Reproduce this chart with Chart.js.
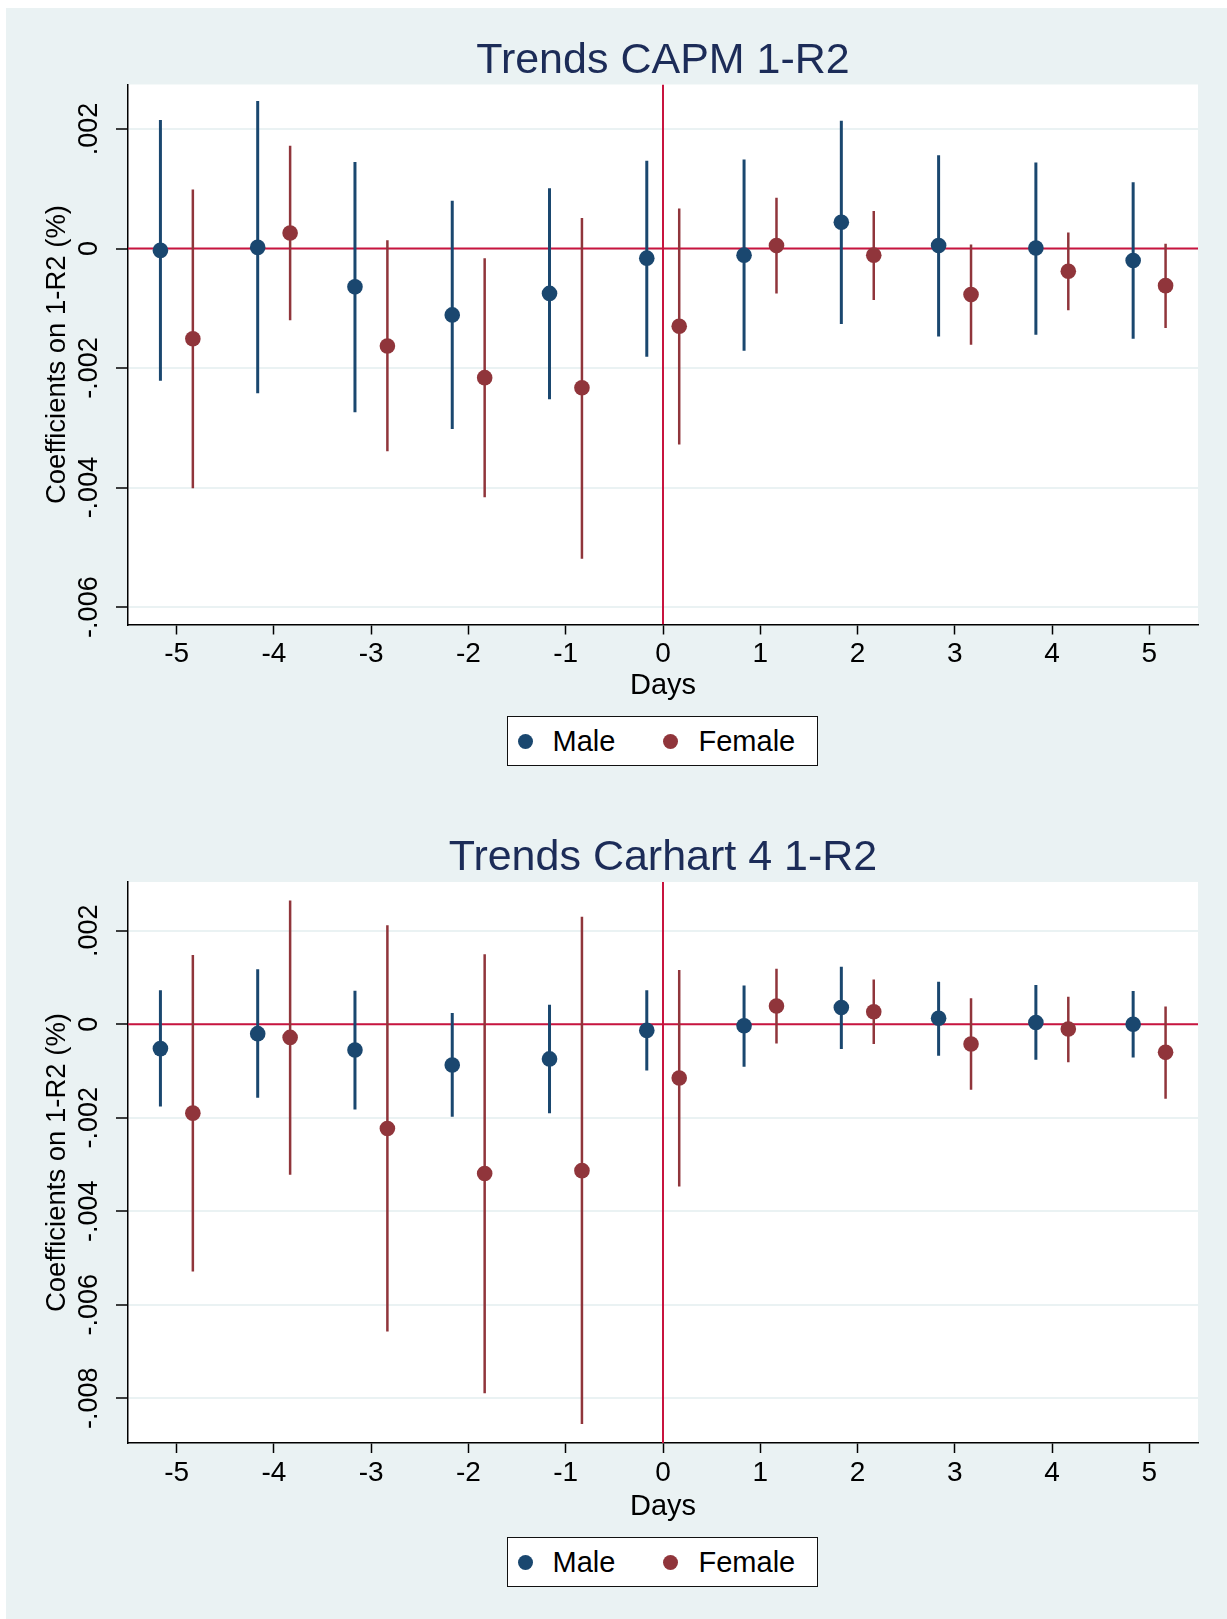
<!DOCTYPE html>
<html>
<head>
<meta charset="utf-8">
<script src="https://cdn.jsdelivr.net/npm/chart.js@4.4.0/dist/chart.umd.min.js"></script>
<style>
  html, body { margin: 0; padding: 0; background: #fff; }
  body { width: 1227px; height: 1619px; position: relative; overflow: hidden; font-family: "Liberation Sans", Arial, sans-serif; }
  #bg { position: absolute; left: 6px; top: 8px; right: 0; bottom: 0; background: #eaf2f3; }
  canvas { position: absolute; left: 0; }
  .legend { position: absolute; left: 507px; width: 311px; height: 50px; box-sizing: border-box;
            border: 1.5px solid #111; background: #fff; font-size: 29px; color: #000; }
  .legend .dot { position: absolute; width: 15px; height: 15px; border-radius: 50%; top: 50%; margin-top: -7.5px; }
  .legend .lbl { position: absolute; top: 50%; transform: translateY(-50%); line-height: 1; }
</style>
</head>
<body>
<div id="bg"></div>
<canvas id="capm" width="1227" height="712" style="top:0px"></canvas>
<div class="legend" id="legend-capm" style="top:716px"></div>
<canvas id="carhart" width="1227" height="735" style="top:800px"></canvas>
<div class="legend" id="legend-carhart" style="top:1537px"></div>

<script>
// Days relative to the event
const days = [-5, -4, -3, -2, -1, 0, 1, 2, 3, 4, 5];
const seriesNames = ['Male', 'Female'];
const seriesColors = ['#1a476f', '#90353b'];
const refColor = '#c8143f';
const titleColor = '#1c2c58';

// Panel 1: CAPM 1-R2
const capmMale   = [-0.00003, 0.00002, -0.00064, -0.00111, -0.00075, -0.00016, -0.00011, 0.00044, 0.00005, 0.00001, -0.00020];
const capmMaleLo = [-0.00221, -0.00242, -0.00274, -0.00302, -0.00252, -0.00181, -0.00171, -0.00126, -0.00147, -0.00144, -0.00151];
const capmMaleHi = [0.00215, 0.00247, 0.00145, 0.00080, 0.00101, 0.00147, 0.00149, 0.00214, 0.00156, 0.00144, 0.00111];
const capmFemale   = [-0.00151, 0.00026, -0.00163, -0.00216, -0.00233, -0.00130, 0.00005, -0.00011, -0.00077, -0.00038, -0.00062];
const capmFemaleLo = [-0.00401, -0.00120, -0.00339, -0.00416, -0.00519, -0.00328, -0.00075, -0.00086, -0.00161, -0.00103, -0.00133];
const capmFemaleHi = [0.00099, 0.00172, 0.00014, -0.00016, 0.00051, 0.00067, 0.00085, 0.00063, 0.00007, 0.00027, 0.00008];
const capmYTicks  = [0.002, 0, -0.002, -0.004, -0.006];
const capmYLabels = ['.002', '0', '-.002', '-.004', '-.006'];

// Panel 2: Carhart 4 1-R2
const carMale   = [-0.00052, -0.00020, -0.00055, -0.00087, -0.00074, -0.00013, -0.00003, 0.00036, 0.00013, 0.00004, 0.00000];
const carMaleLo = [-0.00176, -0.00157, -0.00182, -0.00198, -0.00190, -0.00099, -0.00091, -0.00053, -0.00067, -0.00076, -0.00071];
const carMaleHi = [0.00073, 0.00118, 0.00072, 0.00024, 0.00042, 0.00073, 0.00083, 0.00123, 0.00091, 0.00084, 0.00071];
const carFemale   = [-0.00190, -0.00028, -0.00223, -0.00319, -0.00313, -0.00115, 0.00039, 0.00027, -0.00042, -0.00010, -0.00060];
const carFemaleLo = [-0.00529, -0.00322, -0.00657, -0.00789, -0.00855, -0.00347, -0.00041, -0.00042, -0.00140, -0.00081, -0.00159];
const carFemaleHi = [0.00148, 0.00265, 0.00212, 0.00150, 0.00230, 0.00116, 0.00119, 0.00096, 0.00056, 0.00059, 0.00038];
const carYTicks  = [0.002, 0, -0.002, -0.004, -0.006, -0.008];
const carYLabels = ['.002', '0', '-.002', '-.004', '-.006', '-.008'];

const FONT = '"Liberation Sans", Arial, sans-serif';
const dodge = 1 / 6;
const xMin = -5.5, xMax = 5.5;

// white plot region
const plotBg = {
  id: 'plotBg',
  beforeDraw(chart) {
    const { ctx, chartArea: a } = chart;
    ctx.save();
    ctx.fillStyle = '#fff';
    ctx.fillRect(a.left, a.top, a.right - a.left, a.bottom - a.top);
    ctx.restore();
  }
};

function ciLine(lo, hi, shift) {
  const pts = [];
  days.forEach((d, i) => {
    pts.push({ x: d + shift, y: lo[i] }, { x: d + shift, y: hi[i] }, { x: d + shift, y: null });
  });
  return pts;
}

function dots(vals, shift) {
  return days.map((d, i) => ({ x: d + shift, y: vals[i] }));
}

function makeChart(id, p) {
  const series = [
    { est: p.male, lo: p.maleLo, hi: p.maleHi, shift: -dodge, width: 3 },
    { est: p.female, lo: p.femaleLo, hi: p.femaleHi, shift: dodge, width: 2.5 }
  ];
  const datasets = [
    { type: 'line', data: [{ x: xMin, y: 0 }, { x: xMax, y: 0 }], borderColor: refColor, borderWidth: 2, pointRadius: 0, order: 10 },
    { type: 'line', data: [{ x: 0, y: p.yMin }, { x: 0, y: p.yMax }], borderColor: refColor, borderWidth: 2, pointRadius: 0, order: 10 }
  ];
  series.forEach((s, k) => {
    datasets.push({
      type: 'line', label: seriesNames[k] + ' CI', data: ciLine(s.lo, s.hi, s.shift),
      borderColor: seriesColors[k], borderWidth: s.width, borderCapStyle: 'butt',
      pointRadius: 0, spanGaps: false, order: 5
    });
    datasets.push({
      type: 'scatter', label: seriesNames[k], data: dots(s.est, s.shift),
      backgroundColor: seriesColors[k], borderWidth: 0, pointRadius: 7.8, order: 1
    });
  });

  return new Chart(document.getElementById(id), {
    type: 'scatter',
    data: { datasets },
    options: {
      responsive: false,
      animation: false,
      devicePixelRatio: 1,
      layout: { padding: { left: 0, right: 29, top: 0, bottom: 0 } },
      plugins: {
        legend: { display: false },
        tooltip: { enabled: false },
        title: {
          display: true, fullSize: false, text: p.title, color: titleColor,
          font: { family: FONT, size: 43, weight: 'normal', lineHeight: 1 },
          padding: { top: p.titleTop, bottom: p.titleBottom }
        }
      },
      scales: {
        x: {
          type: 'linear', min: xMin, max: xMax,
          afterBuildTicks: s => { s.ticks = days.map(v => ({ value: v })); },
          afterFit: s => { s.height = p.xHeight; },
          ticks: { color: '#000', font: { family: FONT, size: 28 }, padding: 3.4, maxRotation: 0, autoSkip: false,
                   callback: v => String(v) },
          grid: { drawOnChartArea: false, tickLength: 10, tickColor: '#000', tickWidth: 1.5 },
          border: { color: '#000', width: 1.5 },
          title: { display: true, text: 'Days', color: '#000', font: { family: FONT, size: 29, lineHeight: 1.2 },
                   padding: { top: 0, bottom: p.daysPad } }
        },
        y: {
          type: 'linear', min: p.yMin, max: p.yMax,
          afterBuildTicks: s => { s.ticks = p.yTicks.map(v => ({ value: v })); },
          afterFit: s => { s.width = 128; },
          ticks: { color: '#000', font: { family: FONT, size: 27 }, minRotation: 90, maxRotation: 90,
                   crossAlign: 'center', padding: -4.6, autoSkip: false,
                   callback: v => { const i = p.yTicks.indexOf(v); return i >= 0 ? p.yLabels[i] : ''; } },
          grid: { color: '#eaf2f3', lineWidth: 2, tickLength: 12, tickColor: '#000', tickWidth: 1.5 },
          border: { color: '#000', width: 1.5 },
          title: { display: true, text: 'Coefficients on 1-R2 (%)', color: '#000',
                   font: { family: FONT, size: 27.5, lineHeight: 1.2 }, padding: { top: 40.5, bottom: 0 } }
        }
      }
    },
    plugins: [plotBg]
  });
}

function makeLegend(id) {
  const box = document.getElementById(id);
  const dotX = [19, 164];
  const textX = [46, 192];
  seriesNames.forEach((name, k) => {
    const dot = document.createElement('span');
    dot.className = 'dot';
    dot.style.left = (dotX[k] - 7.5 - 1.5) + 'px';
    dot.style.background = seriesColors[k];
    box.appendChild(dot);
    const lbl = document.createElement('span');
    lbl.className = 'lbl';
    lbl.style.left = (textX[k] - 1.5) + 'px';
    lbl.textContent = name;
    box.appendChild(lbl);
  });
}

makeChart('capm', {
  title: 'Trends CAPM 1-R2', titleTop: 39.7, titleBottom: 1.8,
  male: capmMale, maleLo: capmMaleLo, maleHi: capmMaleHi,
  female: capmFemale, femaleLo: capmFemaleLo, femaleHi: capmFemaleHi,
  yMin: -0.006291, yMax: 0.002746, yTicks: capmYTicks, yLabels: capmYLabels,
  xHeight: 87.5, daysPad: 8.6
});

makeChart('carhart', {
  title: 'Trends Carhart 4 1-R2', titleTop: 36.3, titleBottom: 2.7,
  male: carMale, maleLo: carMaleLo, maleHi: carMaleHi,
  female: carFemale, femaleLo: carFemaleLo, femaleHi: carFemaleHi,
  yMin: -0.008956, yMax: 0.003044, yTicks: carYTicks, yLabels: carYLabels,
  xHeight: 92, daysPad: 11.1
});

makeLegend('legend-capm');
makeLegend('legend-carhart');
</script>
</body>
</html>
